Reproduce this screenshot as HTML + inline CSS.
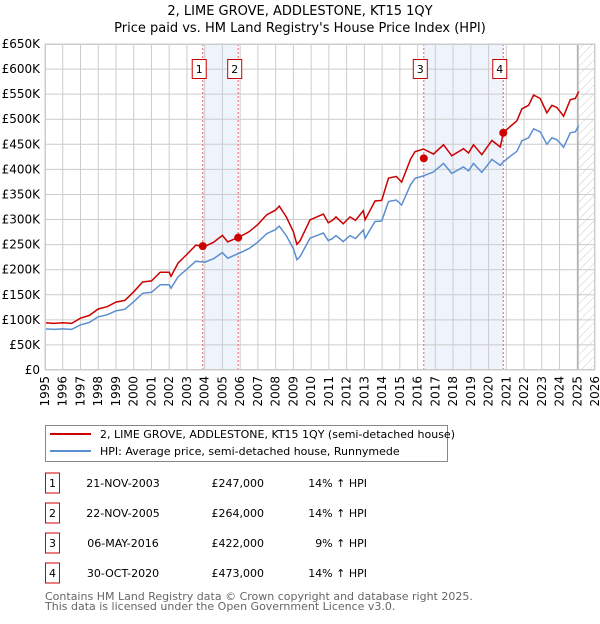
<!DOCTYPE html>
<html><head><meta charset="utf-8"><style>
body{margin:0;background:#fff;font-family:"DejaVu Sans","Liberation Sans",sans-serif;}
svg text{font-family:"DejaVu Sans","Liberation Sans",sans-serif;}
</style></head><body>
<svg id="chart" width="600" height="620" viewBox="0 0 600 620" xmlns="http://www.w3.org/2000/svg">
<defs><pattern id="hatch" width="6" height="6" patternUnits="userSpaceOnUse" patternTransform="rotate(45)"><line x1="0" y1="0" x2="0" y2="6" stroke="#ccc" stroke-width="1"/></pattern></defs>
<text x="300" y="15" text-anchor="middle" font-size="13">2, LIME GROVE, ADDLESTONE, KT15 1QY</text>
<text x="300" y="32" text-anchor="middle" font-size="13">Price paid vs. HM Land Registry's House Price Index (HPI)</text>
<g id="plot"></g>
<g>
<rect x="45.5" y="425.5" width="402" height="36" fill="#fff" stroke="#888"/>
<line x1="50" y1="434" x2="91" y2="434" stroke="#cc0000" stroke-width="2"/>
<text x="100" y="438" font-size="11">2, LIME GROVE, ADDLESTONE, KT15 1QY (semi-detached house)</text>
<line x1="50" y1="451" x2="91" y2="451" stroke="#5b8ed0" stroke-width="2"/>
<text x="100" y="455" font-size="11">HPI: Average price, semi-detached house, Runnymede</text>
</g>
<g id="table"></g>
<text x="45" y="600" font-size="11" fill="#666">Contains HM Land Registry data © Crown copyright and database right 2025.</text>
<text x="45" y="610" font-size="11" fill="#666">This data is licensed under the Open Government Licence v3.0.</text>
</svg>
<script>
const hpiYears=[1995,1995.5,1996,1996.5,1997,1997.5,1998,1998.5,1999,1999.5,2000,2000.5,2001,2001.5,2002,2002.1,2002.5,2003,2003.5,2004,2004.5,2005,2005.3,2005.9,2006.5,2007,2007.5,2008,2008.2,2008.6,2009,2009.2,2009.37,2009.94,2010.69,2010.97,2011.2,2011.4,2011.81,2012.19,2012.5,2012.94,2013.04,2013.6,2013.98,2014.36,2014.8,2015.1,2015.6,2015.85,2016.33,2016.9,2017.46,2017.93,2018.59,2018.87,2019.15,2019.62,2020.19,2020.66,2020.83,2021.22,2021.6,2021.88,2022.26,2022.54,2022.91,2023.29,2023.57,2023.86,2024.23,2024.61,2024.89,2025.08];
const hpiValues=[82,81,82,81,90,95,106,110,118,121,136,153,155,170,170,163,186,201,217,215,222,234,223,232,242,255,272,280,287,268,242,220,226,263,273,258,262,268,256,268,262,279,263,296,297,336,339,329,369,382,387,395,412,392,405,397,412,394,420,408,415,426,436,457,463,481,475,450,463,459,444,473,475,487];
const saleYears=[2003.89,2005.89,2016.35,2020.83];
const salePrices=[247,264,422,473];
const saleDates=["21-NOV-2003","22-NOV-2005","06-MAY-2016","30-OCT-2020"];
const saleHpiDiff=["14% \u2191 HPI","14% \u2191 HPI","9% \u2191 HPI","14% \u2191 HPI"];
const yTicks=[0,50,100,150,200,250,300,350,400,450,500,550,600,650];
const xTicks=[1995,1996,1997,1998,1999,2000,2001,2002,2003,2004,2005,2006,2007,2008,2009,2010,2011,2012,2013,2014,2015,2016,2017,2018,2019,2020,2021,2022,2023,2024,2025,2026];
const dataEnd=2025.1;

const NS="http://www.w3.org/2000/svg";
const L=45,R=595,T=44,B=370;
const xS=y=>L+(y-1995)/(2026-1995)*(R-L);
const yS=v=>B-v/650*(B-T);
const plot=document.getElementById('plot');
function mk(tag,attrs,parent){const e=document.createElementNS(NS,tag);for(const k in attrs)e.setAttribute(k,attrs[k]);(parent||plot).appendChild(e);return e;}
function hpiAt(t){for(let i=0;i<hpiYears.length-1;i++){if(t<=hpiYears[i+1]){const f=(t-hpiYears[i])/(hpiYears[i+1]-hpiYears[i]);return hpiValues[i]+f*(hpiValues[i+1]-hpiValues[i]);}}return hpiValues[hpiValues.length-1];}
// shaded ranges
for(let i=0;i<saleYears.length;i+=2){
 const r=mk('rect',{x:xS(saleYears[i]),y:T,width:xS(saleYears[i+1])-xS(saleYears[i]),height:B-T,fill:'#eef3fc'});
 
 
}
const hr=mk('rect',{x:xS(dataEnd),y:T,width:R-xS(dataEnd),height:B-T,fill:'url(#hatch)'});


// grid
xTicks.forEach(t=>{const l=mk('line',{x1:xS(t),x2:xS(t),y1:T,y2:B,stroke:'#ccc','stroke-width':1});
 
 
 const tx=mk('text',{x:0,y:0,'font-size':12,'text-anchor':'end',transform:`translate(${xS(t)+4},${B+6}) rotate(-90)`});
 tx.textContent=t;
 
 
});
yTicks.forEach(v=>{const l=mk('line',{x1:L,x2:R,y1:yS(v),y2:yS(v),stroke:'#ccc','stroke-width':1});
 
 
 const tx=mk('text',{x:40,y:yS(v)+4,'font-size':12,'text-anchor':'end'});
 tx.textContent=v===0?'£0':'£'+v+'K';
 
 
});
const el=mk('line',{x1:xS(dataEnd)-1,x2:xS(dataEnd)-1,y1:T,y2:B,stroke:'#999','stroke-width':1});


// sale vertical lines
saleYears.forEach((s,i)=>{const l=mk('line',{x1:xS(s),x2:xS(s),y1:T,y2:B,stroke:'#e06666','stroke-width':1,'stroke-dasharray':'2,2'});
 
 
 const g=mk('g',{});
 
 
 mk('rect',{x:xS(s)-10.5,y:59.5,width:14,height:19,fill:'#fff',stroke:'#cc0000'},g);
 const t=mk('text',{x:xS(s)-3.5,y:73,'font-size':11,'text-anchor':'middle'},g);t.textContent=i+1;
});
// series
let hp='',rp='';
hpiYears.forEach((y,i)=>{hp+=(i?'L':'M')+xS(y).toFixed(1)+','+yS(hpiValues[i]).toFixed(1);
 let k=0;for(let j=0;j<saleYears.length;j++)if(saleYears[j]<=y)k=j;
 const ratio=salePrices[k]/hpiAt(saleYears[k]);
 rp+=(i?'L':'M')+xS(y).toFixed(1)+','+yS(hpiValues[i]*ratio).toFixed(1);});
const hl=mk('path',{d:hp,fill:'none',stroke:'#5b8ed0','stroke-width':1.5});


const rl=mk('path',{d:rp,fill:'none',stroke:'#cc0000','stroke-width':1.5});


saleYears.forEach((s,i)=>{const c=mk('circle',{cx:xS(s),cy:yS(salePrices[i]),r:4,fill:'#cc0000'});
 
 
});
mk('rect',{x:L+.5,y:T+.5,width:R-L-1,height:B-T-1,fill:'none',stroke:'#ccc'});
// table
const tb=document.getElementById('table');
saleYears.forEach((s,i)=>{const cy=483+i*30;
 const g=mk('g',{},tb);
 
 
 mk('rect',{x:45.5,y:cy-10,width:14,height:20,fill:'#fff',stroke:'#cc0000'},g);
 let t=mk('text',{x:52.5,y:cy+4,'font-size':11,'text-anchor':'middle'},g);t.textContent=i+1;
 t=mk('text',{x:123,y:cy+4,'font-size':11,'text-anchor':'middle'},g);t.textContent=saleDates[i];
 t=mk('text',{x:264,y:cy+4,'font-size':11,'text-anchor':'end'},g);t.textContent='£'+salePrices[i]+',000';
 t=mk('text',{x:367,y:cy+4,'font-size':11,'text-anchor':'end'},g);t.textContent=saleHpiDiff[i];
});
</script>
</body></html>
